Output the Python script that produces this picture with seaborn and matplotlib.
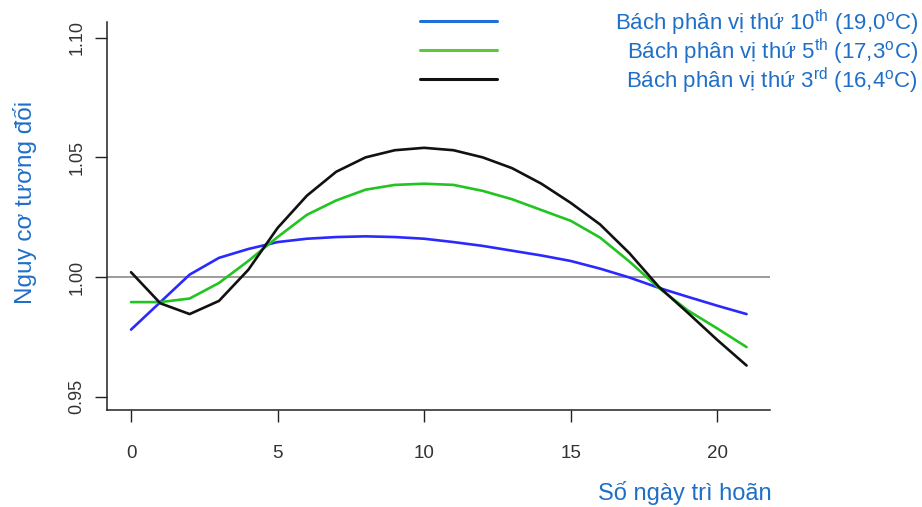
import numpy as np
import pandas as pd
import matplotlib
matplotlib.use("Agg")
import matplotlib.pyplot as plt
from matplotlib.lines import Line2D
import seaborn as sns

# Lag days
lag = list(range(0, 22))

# Relative risk curves
rr_p10 = [0.978, 0.9895, 1.001, 1.008, 1.0117, 1.0146, 1.016, 1.0167, 1.017, 1.0167, 1.016,
          1.0146, 1.013, 1.011, 1.009, 1.0067, 1.0035, 0.9998, 0.9955, 0.9917, 0.988, 0.9845]
rr_p5 = [0.9895, 0.9895, 0.991, 0.9975, 1.0067, 1.0167, 1.026, 1.032, 1.0365, 1.0385, 1.039,
         1.0385, 1.036, 1.0325, 1.028, 1.0235, 1.0165, 1.0065, 0.9955, 0.986, 0.9785, 0.9707]
rr_p3 = [1.002, 0.989, 0.9845, 0.990, 1.003, 1.0205, 1.034, 1.044, 1.050, 1.053, 1.054,
         1.053, 1.050, 1.0455, 1.039, 1.031, 1.022, 1.010, 0.996, 0.985, 0.9737, 0.963]

series_names = ["p10", "p5", "p3"]
legend_labels = [
    "Bách phân vị thứ 10$^{\\mathrm{th}}$ (19,0$^{\\mathrm{o}}$C)",
    "Bách phân vị thứ 5$^{\\mathrm{th}}$ (17,3$^{\\mathrm{o}}$C)",
    "Bách phân vị thứ 3$^{\\mathrm{rd}}$ (16,4$^{\\mathrm{o}}$C)",
]
line_colors = {"p10": "#2a2aff", "p5": "#22c422", "p3": "#111111"}
legend_colors = ["#1f6fd6", "#5cc83a", "#111111"]

x_ticks = [0, 5, 10, 15, 20]
y_ticks = [0.95, 1.00, 1.05, 1.10]

df = pd.DataFrame({
    "lag": lag * 3,
    "rr": rr_p10 + rr_p5 + rr_p3,
    "series": [s for s in series_names for _ in lag],
})

sns.set_style("white")
plt.rcParams["font.family"] = ["Liberation Sans", "DejaVu Sans"]
plt.rcParams["mathtext.fontset"] = "custom"
plt.rcParams["mathtext.rm"] = "Liberation Sans"

fig = plt.figure(figsize=(9.22, 5.07), dpi=100)
ax = fig.add_axes([107 / 922, 1 - 410 / 507, (770 - 107) / 922, (410 - 22) / 507])

ax.axhline(1.0, color="#8a8a8a", lw=1.2, zorder=1)
sns.lineplot(data=df, x="lag", y="rr", hue="series", palette=line_colors,
             linewidth=1.9, legend=False, ax=ax, zorder=3)

ax.set_xlim(-0.82, 21.8)
ax.set_ylim(0.9444, 1.1066)
ax.set_xticks(x_ticks)
ax.set_yticks(y_ticks)
ax.set_xticklabels([str(t) for t in x_ticks])
ax.set_yticklabels(["%.2f" % t for t in y_ticks], rotation=90, va="center")

for s in ["top", "right"]:
    ax.spines[s].set_visible(False)
for s in ["left", "bottom"]:
    ax.spines[s].set_color("#222222")
    ax.spines[s].set_linewidth(1.1)

ax.tick_params(axis="both", direction="out", length=8.5, width=1.0, color="#222222",
               labelcolor="#333333", left=True, bottom=True)
ax.tick_params(axis="x", pad=17, labelsize=13.5)
ax.tick_params(axis="y", pad=7, labelsize=13)
ax.set_xlabel("")
ax.set_ylabel("")

blue_text = "#1f6fc8"
fig.text(25 / 922, 1 - 202 / 507, "Nguy cơ tương đối", rotation=90, color=blue_text,
         fontsize=17.5, ha="center", va="center")
fig.text(772 / 922, 1 - 493 / 507, "Số ngày trì hoãn", color=blue_text,
         fontsize=17, ha="right", va="center")

# legend: handles on the left, texts right-aligned
leg_y = [21, 50, 79]
for yy, col, lab in zip(leg_y, legend_colors, legend_labels):
    fig.add_artist(Line2D([420 / 922, 497 / 922], [1 - yy / 507, 1 - yy / 507],
                          transform=fig.transFigure, color=col, lw=2.2))
    fig.text(918 / 922, 1 - (yy + 2) / 507, lab, color=blue_text, fontsize=16,
             ha="right", va="center")

fig.savefig("out.png", dpi=100)
